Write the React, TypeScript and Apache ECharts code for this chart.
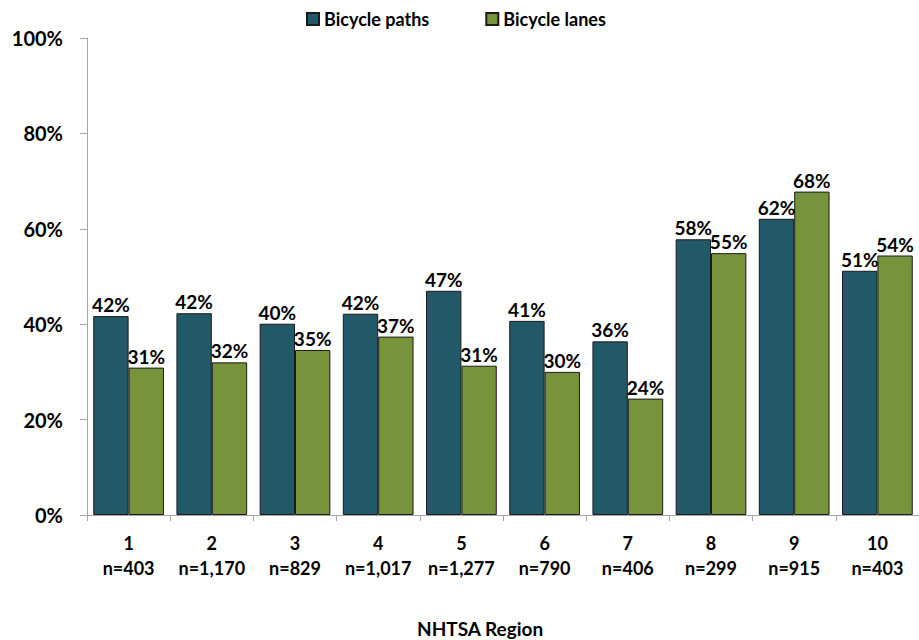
import React, { useEffect, useRef } from "react";
import * as echarts from "echarts";

const regions = ["1", "2", "3", "4", "5", "6", "7", "8", "9", "10"];
const sampleSizes = ["n=403", "n=1,170", "n=829", "n=1,017", "n=1,277", "n=790", "n=406", "n=299", "n=915", "n=403"];
const bicyclePaths = [41.7, 42.3, 40.1, 42.2, 47.0, 40.7, 36.4, 57.8, 62.1, 51.2];
const bicycleLanes = [30.9, 32.0, 34.6, 37.4, 31.3, 30.0, 24.4, 54.9, 67.8, 54.4];
const yTicks = [0, 20, 40, 60, 80, 100];

const FONT = "Lato, 'Open Sans', sans-serif";

export default function App() {
  const ref = useRef<HTMLDivElement>(null);
  useEffect(() => {
    if (!ref.current) return;
    const chart = echarts.init(ref.current, null, { renderer: "svg" });
    const labelCfg = {
      show: true,
      position: "top" as const,
      distance: 2,
      formatter: (p: any) => Math.round(p.value) + "%",
      fontFamily: FONT,
      fontWeight: "bold" as const,
      fontSize: 19,
      color: "#000",
    };
    chart.setOption({
      animation: false,
      textStyle: { fontFamily: FONT },
      legend: {
        top: 5,
        left: 301,
        icon: "rect",
        itemWidth: 12,
        itemHeight: 12,
        itemGap: 56,
        textStyle: { fontFamily: FONT, fontWeight: "bold", fontSize: 18, color: "#000" },
        data: ["Bicycle paths", "Bicycle lanes"],
      },
      grid: { left: 87, right: 0, top: 38, bottom: 125, containLabel: false },
      xAxis: {
        type: "category",
        data: regions.map((r, i) => r + "\n" + sampleSizes[i]),
        axisLine: { lineStyle: { color: "#a6a6a6", width: 1 } },
        axisTick: { show: true, length: 6, lineStyle: { color: "#a6a6a6" } },
        axisLabel: {
          interval: 0,
          margin: 15,
          fontFamily: FONT,
          fontWeight: "bold",
          fontSize: 18,
          lineHeight: 25,
          color: "#000",
        },
      },
      yAxis: {
        type: "value",
        min: yTicks[0],
        max: yTicks[yTicks.length - 1],
        interval: 20,
        splitLine: { show: false },
        axisLine: { show: true, lineStyle: { color: "#a6a6a6", width: 1 } },
        axisTick: { show: true, length: 7, lineStyle: { color: "#a6a6a6" } },
        axisLabel: {
          formatter: "{value}%",
          margin: 24,
          fontFamily: FONT,
          fontWeight: "bold",
          fontSize: 20,
          color: "#000",
        },
      },
      graphic: [
        {
          type: "text",
          left: 417,
          top: 619,
          style: {
            text: "NHTSA Region",
            fontFamily: FONT,
            fontWeight: "bold",
            fontSize: 19,
            fill: "#000",
          },
        },
      ],
      series: [
        {
          name: "Bicycle paths",
          type: "bar",
          data: bicyclePaths,
          barGap: "0%",
          barCategoryGap: "15%",
          itemStyle: { color: "#215968", borderColor: "#1a1a1a", borderWidth: 1 },
          label: labelCfg,
        },
        {
          name: "Bicycle lanes",
          type: "bar",
          data: bicycleLanes,
          barGap: "0%",
          barCategoryGap: "15%",
          itemStyle: { color: "#77933c", borderColor: "#1a1a1a", borderWidth: 1 },
          label: labelCfg,
        },
      ],
    });
    return () => chart.dispose();
  }, []);
  return (
    <div
      ref={ref}
      style={{ position: "absolute", left: 0, top: 0, width: 919, height: 640 }}
    />
  );
}
